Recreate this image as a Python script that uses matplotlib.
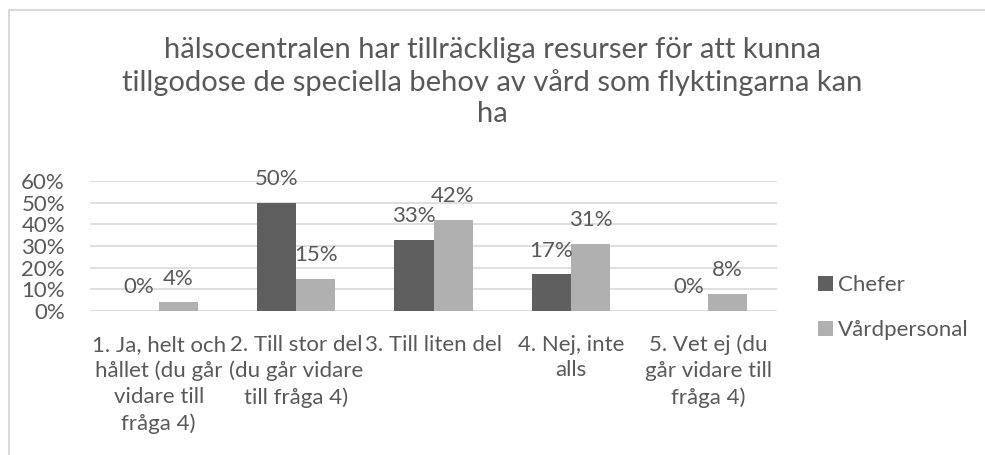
import numpy as np
import matplotlib
matplotlib.use("Agg")
from matplotlib import pyplot as plt
from matplotlib import font_manager
from matplotlib.patches import Rectangle

# Data
categories = [
    "1. Ja, helt och\nhållet (du går\nvidare till\nfråga 4)",
    "2. Till stor del\n(du går vidare\ntill fråga 4)",
    "3. Till liten del",
    "4. Nej, inte\nalls",
    "5. Vet ej (du\ngår vidare till\nfråga 4)",
]
series_names = ["Chefer", "Vårdpersonal"]
chefer = [0.00, 0.50, 0.33, 0.17, 0.00]
vardpersonal = [0.04, 0.15, 0.42, 0.31, 0.08]
yticks = [0.0, 0.1, 0.2, 0.3, 0.4, 0.5, 0.6]
title = ("hälsocentralen har tillräckliga resurser för att kunna\n"
         "tillgodose de speciella behov av vård som flyktingarna kan\nha")

# Calibri-like font
installed = {f.name for f in font_manager.fontManager.ttflist}
main = "Lato" if "Lato" in installed else "DejaVu Sans"

text_color = "#595959"
colors = ["#5f5f5f", "#b0b0b0"]
grid_color = "#d9d9d9"

W, H = 985, 455
fig = plt.figure(figsize=(W / 100, H / 100), dpi=100)

# Chart border (only top/left visible in the reference)
fig.patches.append(Rectangle((9 / W, -0.1), 1.2, (H - 10) / H + 0.1,
                             transform=fig.transFigure, fill=False,
                             edgecolor=grid_color, linewidth=1.5))

ax = fig.add_axes([90 / W, 1 - 311 / H, (777 - 90) / W, (311 - 181) / H])

x = np.arange(len(categories))
width = 0.284
bars = []
for i, (vals, name) in enumerate(zip([chefer, vardpersonal], series_names)):
    offs = (i - 0.5) * width
    b = ax.bar(x + offs, vals, width, color=colors[i], label=name, zorder=2)
    bars.append(b)
    # data labels above bars
    for xi, v in zip(x + offs, vals):
        ax.annotate(f"{round(v * 100):.0f}%", (xi, v), xytext=(0, 17),
                    textcoords="offset points", ha="center", va="center",
                    fontsize=16, color=text_color, family=main)

ax.set_xlim(-0.5, len(categories) - 0.5)
ax.set_ylim(0, 0.6)
ax.set_yticks(yticks)
ax.set_yticklabels([f"{round(t * 100)}%" for t in yticks], family=main,
                   fontsize=16, color=text_color)
ax.set_xticks(x)
ax.set_xticklabels(categories, family=main, fontsize=16, color=text_color,
                   linespacing=1.36)
ax.tick_params(axis="both", length=0)
ax.tick_params(axis="y", pad=18)
ax.tick_params(axis="x", pad=17)
ax.grid(axis="y", color=grid_color, linewidth=1.2, zorder=0)
for s in ax.spines.values():
    s.set_visible(False)

fig.text(492 / W, 1 - 82 / H, title, ha="center", va="center",
         fontsize=21, color=text_color, family=main, linespacing=1.26)

leg = fig.legend(handles=bars, labels=series_names, loc="upper left",
                 bbox_to_anchor=(798 / W, 1 - 255 / H), frameon=False,
                 prop={"family": main, "size": 16}, handlelength=0.68,
                 handleheight=0.68, handletextpad=0.2, labelspacing=1.13,
                 labelcolor=text_color)

fig.savefig("out.png", dpi=100)
